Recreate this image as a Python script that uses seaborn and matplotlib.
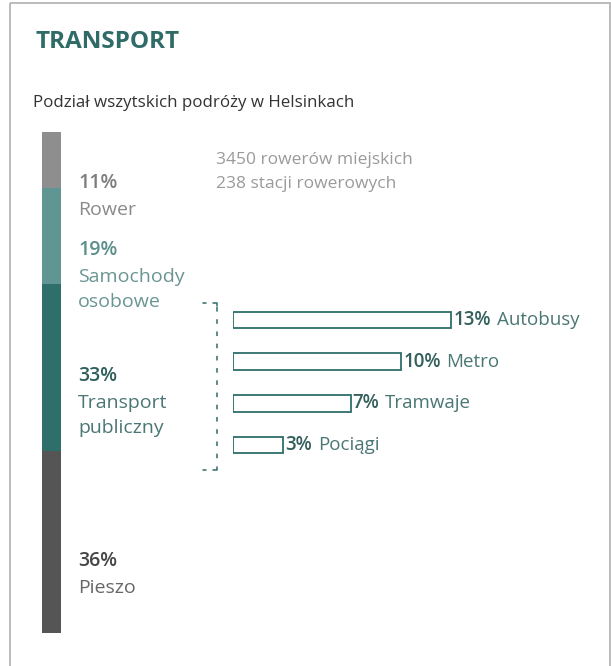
import matplotlib
matplotlib.use("Agg")
import matplotlib.pyplot as plt
from matplotlib.patches import Rectangle
import seaborn as sns
import pandas as pd

# ---------------- data ----------------
modes = ["Rower", "Samochody\nosobowe", "Transport\npubliczny", "Pieszo"]
mode_share = [11, 19, 33, 36]
pt_types = ["Autobusy", "Metro", "Tramwaje", "Pociągi"]
pt_share = [13, 10, 7, 3]
title = "TRANSPORT"
subtitle = "Podział wszytskich podróży w Helsinkach"
note_lines = ["3450 rowerów miejskich", "238 stacji rowerowych"]

# ---------------- style ----------------
sns.set_theme(style="white")
plt.rcParams["font.family"] = ["Open Sans", "DejaVu Sans"]

W, H = 611, 666
fig = plt.figure(figsize=(W / 100, H / 100), dpi=100)
fig.patch.set_facecolor("white")

def fr(x0, y0, x1, y1):
    return [x0 / W, 1 - y1 / H, (x1 - x0) / W, (y1 - y0) / H]

# overlay axes in pixel coordinates for decoration
ov = fig.add_axes([0, 0, 1, 1], zorder=0)
ov.set_xlim(0, W)
ov.set_ylim(H, 0)
ov.axis("off")
ov.add_patch(Rectangle((10, 3), 599.5, 700, fill=False, edgecolor="#b5b5b5", lw=1.3))
ov.text(36, 42, title, fontsize=17.5, fontweight="bold", color="#2f6b67", va="center", ha="left")
ov.text(33, 103, subtitle, fontsize=12.2, color="#333333", va="center", ha="left")
ov.text(216, 160, note_lines[0], fontsize=12.5, color="#9a9a9a", va="center", ha="left")
ov.text(216, 184, note_lines[1], fontsize=12.5, color="#9a9a9a", va="center", ha="left")

# dashed bracket
bc = "#2f6b67"
ov.plot([217, 217], [307, 466], color=bc, lw=1.1, ls=(0, (3, 5)))
ov.plot([203, 206], [303, 303], color=bc, lw=1.1)
ov.plot([213, 217, 217], [303, 303, 306], color=bc, lw=1.1)
ov.plot([203, 206], [470, 470], color=bc, lw=1.1)
ov.plot([213, 217, 217], [470, 470, 467], color=bc, lw=1.1)

# ---------------- stacked vertical bar ----------------
seg_colors = ["#8e8e8e", "#5f9693", "#2e6f6b", "#555555"]
axb = fig.add_axes(fr(42, 132, 61, 633), zorder=1)
axb.patch.set_alpha(0)
bottom = 0
for v, c in zip(mode_share, seg_colors):
    axb.bar([0], [v], bottom=bottom, width=1.0, color=c, edgecolor="none")
    bottom += v
axb.set_xlim(-0.5, 0.5)
axb.set_ylim(sum(mode_share), 0)
axb.axis("off")

# labels for modes (pixel layout)
pct_cols = ["#7d7d7d", "#5b8f8c", "#2f605d", "#454545"]
name_cols = ["#8a8a8a", "#6a9592", "#4a7673", "#666666"]
pct_y = [183, 250, 376, 561]
for i, (m, v) in enumerate(zip(modes, mode_share)):
    ov.text(78, pct_y[i], f"{v}%", fontsize=14, fontweight="semibold", color=pct_cols[i],
            va="center", ha="left")
    for j, line in enumerate(m.split("\n")):
        ov.text(78, pct_y[i] + 27 + 25 * j, line, fontsize=14, color=name_cols[i],
                va="center", ha="left")

# ---------------- horizontal bars ----------------
df = pd.DataFrame({"typ": pt_types, "udzial": pt_share})
axh = fig.add_axes(fr(233, 299, 233 + 16.8 * 20, 466), zorder=1)
axh.patch.set_alpha(0)
sns.barplot(data=df, x="udzial", y="typ", ax=axh, orient="h", width=0.4,
            color="white", edgecolor="#2e6e6a", linewidth=1.3, saturation=1)
axh.set_xlim(0, 20)
axh.set_ylim(3.5, -0.5)
axh.axis("off")
for i, (t, v) in enumerate(zip(pt_types, pt_share)):
    pt = axh.annotate(f"{v}%", xy=(v, i), xytext=(1.5, 0), textcoords="offset points",
                      fontsize=13.5, fontweight="semibold", color="#335f5c",
                      va="center", ha="left", annotation_clip=False)
    axh.annotate(t, xy=(1, 0.5), xycoords=pt, xytext=(4, 0), textcoords="offset points",
                 fontsize=13.5, color="#4a7673", va="center", ha="left")

fig.savefig("out.png", dpi=100)
